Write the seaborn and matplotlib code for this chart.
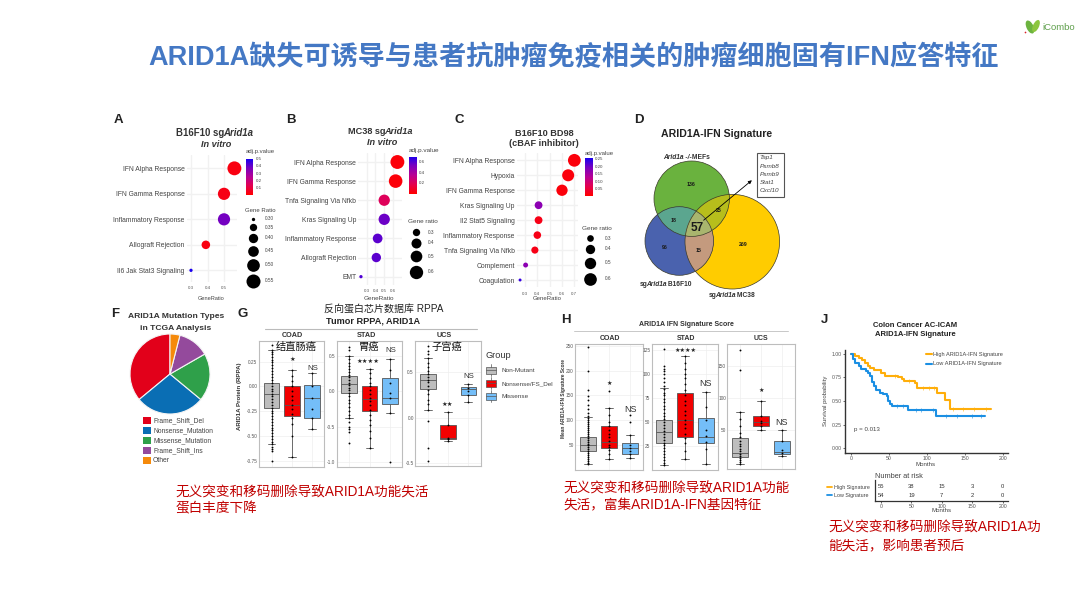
import numpy as np
import pandas as pd
import seaborn as sns
from matplotlib import pyplot as plt
from matplotlib.colors import LinearSegmentedColormap
from matplotlib.patches import Circle, Polygon, Rectangle, Ellipse

# ---- data ----
TITLE = 'ARID1A缺失可诱导与患者抗肿瘤免疫相关的肿瘤细胞固有IFN应答特征'

A_terms = ['IFN Alpha Response', 'IFN Gamma Response', 'Inflammatory Response', 'Allograft Rejection', 'Il6 Jak Stat3 Signaling']
A_ratio = [0.563, 0.50, 0.50, 0.39, 0.30]
A_padj = [0.03, 0.04, 0.42, 0.03, 0.55]

B_terms = ['IFN Alpha Response', 'IFN Gamma Response', 'Tnfa Signaling Via Nfkb', 'Kras Signaling Up',
           'Inflammatory Response', 'Allograft Rejection', 'EMT']
B_ratio = [0.65, 0.63, 0.50, 0.50, 0.425, 0.41, 0.235]
B_padj = [0.02, 0.02, 0.2, 0.55, 0.58, 0.58, 0.6]

C_terms = ['IFN Alpha Response', 'Hypoxia', 'IFN Gamma Response', 'Kras Signaling Up', 'Il2 Stat5 Signaling',
           'Inflammatory Response', 'Tnfa Signaling Via Nfkb', 'Complement', 'Coagulation']
C_ratio = [0.70, 0.65, 0.60, 0.41, 0.41, 0.40, 0.38, 0.305, 0.26]
C_padj = [0.01, 0.01, 0.01, 0.19, 0.02, 0.02, 0.02, 0.19, 0.26]

pie_labels = ['Frame_Shift_Del', 'Nonsense_Mutation', 'Missense_Mutation', 'Frame_Shift_Ins', 'Other']
pie_values = [36, 28, 19.3, 12.7, 4]
pie_colors = ['#E2001A', '#0A6EB4', '#2FA04A', '#944A9C', '#F58A0B']

venn_counts = ['136', '18', '25', '57', '96', '15', '269']
venn_genes = ['Tap1', 'Psmb8', 'Psmb9', 'Stat1', 'Cxcl10']

groups = ['Non-Mutant', 'Nonsense/FS_Del', 'Missense']
box_colors = ['#BDBDBD', '#F20000', '#74BEF8']

# five numbers per group: whisker low, q1, median, q3, whisker high
G_COAD_box = [[-0.58, -0.22, -0.08, 0.03, 0.37], [-0.71, -0.30, -0.185, 0.0, 0.16], [-0.43, -0.32, -0.12, 0.015, 0.13]]
G_STAD_box = [[-0.375, -0.03, 0.10, 0.215, 0.50], [-0.80, -0.285, -0.11, 0.07, 0.315], [-0.30, -0.18, -0.10, 0.19, 0.45]]
G_UCS_box = [[0.09, 0.315, 0.415, 0.485, 0.655], [-0.255, -0.235, -0.225, -0.08, 0.06], [0.18, 0.25, 0.315, 0.345, 0.375]]
H_COAD_box = [[10, 37, 50, 65, 106], [20, 42, 56, 87, 125], [22, 30, 43, 53, 69]]
H_STAD_box = [[6, 28, 40, 52, 86], [11.5, 35, 52, 80.5, 119], [7, 29, 35, 54, 82]]
H_UCS_box = [[-3, 7, 13, 37, 78], [50, 56, 62.5, 72, 95], [9, 12, 15, 32, 50]]

G_COAD_pts = [[0.42, 0.37, 0.35, 0.33, 0.3, 0.27, 0.24, 0.21, 0.18, 0.15, 0.12, 0.09, 0.06, 0.03, 0.0, -0.03, -0.05, -0.08, -0.1, -0.13,
               -0.16, -0.19, -0.22, -0.25, -0.27, -0.3, -0.33, -0.36, -0.39, -0.42, -0.44, -0.47, -0.5, -0.53, -0.56, -0.58, -0.61, -0.63, -0.65, -0.75],
              [0.16, 0.1, 0.05, 0.0, -0.05, -0.1, -0.14, -0.19, -0.23, -0.28, -0.32, -0.38, -0.5, -0.71],
              [0.13, 0.0, -0.12, -0.23, -0.32, -0.43]]
G_STAD_pts = [[0.62, 0.58, 0.5, 0.45, 0.4, 0.36, 0.31, 0.27, 0.23, 0.2, 0.16, 0.12, 0.09, 0.05, 0.02, -0.03, -0.07, -0.12, -0.17, -0.22, -0.28,
               -0.33, -0.375, -0.43, -0.5, -0.53, -0.57, -0.73],
              [0.315, 0.25, 0.18, 0.12, 0.07, 0.02, -0.04, -0.09, -0.14, -0.2, -0.26, -0.33, -0.4, -0.47, -0.56, -0.66, -0.8],
              [0.45, 0.3, 0.12, -0.03, -0.1, -0.3, -0.99]]
G_UCS_pts = [[0.79, 0.74, 0.7, 0.655, 0.6, 0.56, 0.52, 0.48, 0.45, 0.42, 0.39, 0.35, 0.31, 0.26, 0.2, 0.15, 0.09, -0.03, -0.33, -0.47],
             [0.06, -0.08, -0.22, -0.235, -0.255],
             [0.375, 0.33, 0.3, 0.25, 0.18]]
H_COAD_pts = [[248, 200, 162, 148, 140, 130, 122, 115, 108, 104, 100, 96, 92, 88, 84, 80, 76, 72, 68, 64, 60, 56, 52, 48, 44, 40, 36, 32, 28, 24, 20, 16, 12, 10],
              [160, 125, 110, 95, 88, 80, 72, 65, 58, 50, 44, 38, 30, 20],
              [110, 95, 69, 50, 42, 36, 30, 22]]
H_STAD_pts = [[126, 109, 106, 103, 100, 96, 92, 88, 85, 81, 78, 74, 71, 67, 64, 60, 57, 53, 50, 47, 44, 41, 38, 35, 32, 29, 26, 23, 20, 17, 14, 11, 8, 6],
              [119, 112, 106, 100, 96, 90, 84, 78, 72, 68, 62, 58, 52, 48, 44, 38, 34, 28, 20, 11.5],
              [82, 66, 52, 42, 36, 30, 22, 7]]
H_UCS_pts = [[175, 143, 78, 66, 55, 45, 38, 33, 28, 24, 20, 16, 12, 9, 6, 3, 0, -3],
             [95, 72, 64, 60, 55, 50],
             [50, 32, 18, 14, 9]]

km_high_t = [0, 5, 10, 15, 18, 22, 25, 30, 40, 45, 62, 67, 70, 84, 87, 114, 124, 130.5, 184]
km_high_s = [1.0, 0.98, 0.96, 0.93, 0.90, 0.87, 0.85, 0.83, 0.80, 0.77, 0.75, 0.73, 0.71, 0.69, 0.64, 0.58, 0.51, 0.42, 0.42]
km_low_t = [0, 3, 5, 10, 13, 20, 22, 25, 27, 30, 33, 38, 42, 47, 49, 52, 54, 75, 112, 177]
km_low_s = [1.0, 0.94, 0.90, 0.87, 0.84, 0.82, 0.80, 0.76, 0.70, 0.66, 0.62, 0.59, 0.57, 0.55, 0.50, 0.47, 0.445, 0.41, 0.34, 0.34]
high_cens_t = [58, 76, 95, 103, 110, 135, 148, 162, 178]
high_cens_s = [0.77, 0.71, 0.64, 0.64, 0.64, 0.42, 0.42, 0.42, 0.42]
low_cens_t = [60, 68, 85, 92, 108, 125, 140, 160, 172]
low_cens_s = [0.445, 0.445, 0.41, 0.41, 0.41, 0.34, 0.34, 0.34, 0.34]
risk_months = [0, 50, 100, 150, 200]
risk_high = [55, 38, 15, 3, 0]
risk_low = [54, 19, 7, 2, 0]

# ---- style ----
W, H = 1080, 608
sns.set_style('white')
# latin from Liberation Sans, everything else falls through to the CJK face
plt.rcParams['font.family'] = ['Liberation Sans', 'Noto Sans CJK SC', 'DejaVu Sans']

padj_cmap = LinearSegmentedColormap.from_list('padj', ['#FF0000', '#E4004F', '#B80094', '#7A00BE', '#1A00F0'])

fig = plt.figure(figsize=(W / 100, H / 100), dpi=100, facecolor='white')
renderer = fig.canvas.get_renderer()


def px_axes(x0, y0, x1, y1, **kw):
    return fig.add_axes([x0 / W, 1 - y1 / H, (x1 - x0) / W, (y1 - y0) / H], **kw)


# overlay in pixel coordinates for text and shapes
ov = px_axes(0, 0, W, H, zorder=10)
ov.set_xlim(0, W)
ov.set_ylim(H, 0)
ov.axis('off')


def txt(x, y, s, size=5, color='#333333', ha='center', **kw):
    return ov.text(x, y, s, fontsize=size, color=color, ha=ha, va='center', **kw)


def mixed(x, y, pieces, size, color='#333333'):
    # bold runs with bold italic gene names, left anchored on a shared baseline
    for s, italic in pieces:
        t = ov.text(x, y, s, fontsize=size, color=color, ha='left', va='baseline', weight='bold',
                    style='italic' if italic else 'normal')
        x += t.get_window_extent(renderer).width - 1.2


def dot_panel(ox, oy, rect, terms, ratio, padj, xticks, xpx, row_px, size_norm, sizes, pmax):
    ax = px_axes(ox + rect[0] / 3, oy + rect[1] / 3, ox + rect[2] / 3, oy + rect[3] / 3)
    df = pd.DataFrame({'term': terms, 'ratio': ratio, 'padj': padj})
    sns.scatterplot(data=df, x='ratio', y='term', hue='padj', size='ratio', palette=padj_cmap,
                    hue_norm=(0, pmax), size_norm=size_norm, sizes=sizes, legend=False,
                    edgecolor='none', clip_on=False, zorder=3, ax=ax)
    dx = (xticks[-1] - xticks[0]) / (xpx[1] - xpx[0])
    ax.set_xlim(xticks[0] + (rect[0] - xpx[0]) * dx, xticks[0] + (rect[2] - xpx[0]) * dx)
    dy = (len(terms) - 1) / (row_px[1] - row_px[0])
    ax.set_ylim((rect[3] - row_px[0]) * dy, (rect[1] - row_px[0]) * dy)
    ax.set_xticks(xticks)
    ax.set_xticklabels([f'{t:.1f}' for t in xticks])
    ax.tick_params(axis='x', labelsize=3.2, length=0, pad=3, labelcolor='#555555')
    ax.tick_params(axis='y', labelsize=4.9, length=0, pad=1.5, labelcolor='#444444')
    ax.set_xlabel('')
    ax.set_ylabel('')
    ax.grid(True, color='#F1F1F1', lw=1.0)
    ax.set_axisbelow(True)
    sns.despine(ax=ax, left=True, bottom=True)
    return ax


def colorbar(ox, oy, x0, y0, x1, y1, labels, label_y, label_x):
    ax = px_axes(ox + x0 / 3, oy + y0 / 3, ox + x1 / 3, oy + y1 / 3)
    ax.imshow(np.linspace(1, 0, 100).reshape(-1, 1), cmap=padj_cmap, aspect='auto')
    ax.axis('off')
    for lab, ly in zip(labels, label_y):
        txt(ox + label_x / 3, oy + ly / 3, lab, size=3.2, ha='left', color='#444444')


def size_legend(ox, oy, cx, cy_list, diam, labels, label_x, title, title_x, title_y, tsize=4.6):
    txt(ox + title_x / 3, oy + title_y / 3, title, size=tsize, ha='left', color='#444444')
    for cy, d, lab in zip(cy_list, diam, labels):
        ov.scatter([ox + cx / 3], [oy + cy / 3], s=(d / 3 * 0.72) ** 2, color='black', lw=0, clip_on=False)
        txt(ox + label_x / 3, oy + cy / 3, lab, size=3.4, ha='left', color='#444444')


# ---- headline ----
txt(573.5, 58, TITLE, size=19.5, color='#4478C4', weight='bold')

# logo
ov.add_patch(Ellipse((1030, 27), 7, 14, angle=-25, color='#6CB33F', lw=0))
ov.add_patch(Ellipse((1036, 26), 6, 13, angle=25, color='#8CC63F', lw=0))
ov.scatter([1025], [32], s=1.5, color='#D8232A', lw=0)
txt(1042, 28, 'iCombo', size=6.8, ha='left', color='#5E9F4B')

# ---- panel letters ----
for letter, lx, ly in [('A', 118, 120), ('B', 291, 120), ('C', 459, 120), ('D', 639, 120),
                       ('F', 115, 314), ('G', 243, 314), ('H', 566, 320), ('J', 824, 320)]:
    txt(lx, ly, letter, size=9.5, color='#222222', weight='bold')

# ---- panel A ----
dot_panel(100, 105, (260, 150, 410, 530), A_terms, A_ratio, A_padj, [0.3, 0.4, 0.5], (273, 372), (190, 496),
          (0.30, 0.563), (5.6, 100), 0.55)
mixed(176, 135.5, [('B16F10 sg', False), ('Arid1a', True)], 6.9)
txt(216, 144.5, 'In vitro', size=6.6, weight='bold', style='italic')
txt(211.5, 298, 'GeneRatio', size=4.1, color='#444444')
txt(100 + 438 / 3, 105 + 141 / 3, 'adj.p.value', size=4.3, ha='left', color='#444444')
colorbar(100, 105, 437, 162, 458, 270, ['0.5', '0.4', '0.3', '0.2', '0.1'], [163, 184, 206, 228, 250], 468)
size_legend(100, 105, 460, [342, 367, 398, 437, 480, 527], [10, 22, 28, 32, 38, 42],
            ['0.30', '0.35', '0.40', '0.45', '0.50', '0.55'], 494, 'Gene Ratio', 435, 315, 4.3)

# ---- panel B ----
dot_panel(280, 105, (235, 145, 365, 540), B_terms, B_ratio, B_padj, [0.3, 0.4, 0.5, 0.6], (260, 339), (171, 515),
          (0.235, 0.65), (5.6, 100), 0.7)
mixed(348.3, 133.5, [('MC38 sg', False), ('Arid1a', True)], 6.6)
txt(382, 142.5, 'In vitro', size=6.6, weight='bold', style='italic')
txt(379, 299, 'GeneRatio', size=4.6, color='#444444')
txt(280 + 387 / 3, 105 + 137 / 3, 'adj.p.value', size=4.6, ha='left', color='#444444')
colorbar(280, 105, 387, 155, 409, 267, ['0.6', '0.4', '0.2'], [171, 203, 235], 418)
size_legend(280, 105, 409, [381, 414, 454, 500], [22, 30, 35, 40], ['0.3', '0.4', '0.5', '0.6'], 443, 'Gene ratio', 385, 350)

# ---- panel C ----
dot_panel(445, 105, (215, 145, 400, 547), C_terms, C_ratio, C_padj, [0.3, 0.4, 0.5, 0.6, 0.7], (240, 388), (166, 525),
          (0.26, 0.70), (4.5, 84), 0.28)
txt(544, 133, 'B16F10 BD98', size=6.6, weight='bold')
txt(544, 144, '(cBAF inhibitor)', size=6.6, weight='bold')
txt(547, 299, 'GeneRatio', size=4.3, color='#444444')
txt(445 + 420 / 3, 105 + 145 / 3, 'adj.p.value', size=4.3, ha='left', color='#444444')
colorbar(445, 105, 420, 160, 442, 272, ['0.25', '0.20', '0.15', '0.10', '0.05'], [162, 185, 207, 230, 253], 450)
size_legend(445, 105, 436, [400, 432, 474, 522], [20, 28, 34, 38], ['0.3', '0.4', '0.5', '0.6'], 480, 'Gene ratio', 412, 370)

# ---- panel D venn ----
circles = {'g': ((691.7, 198.7), 37.7), 'b': ((679.3, 241.0), 34.3), 'y': ((732.3, 241.7), 47.3)}
base_col = {'g': '#6AB23E', 'b': '#4A62AE', 'y': '#FFCC00'}
lens_col = {('g', 'b'): '#5BA68F', ('g', 'y'): '#B7BE1C', ('b', 'y'): '#C49A7E', ('g', 'b', 'y'): '#A9B56E'}


def lens(keys):
    # outline of the overlap of convex circles
    pts = []
    for k in keys:
        (cx, cy), r = circles[k]
        ang = np.linspace(0, 2 * np.pi, 720)
        p = np.c_[cx + r * np.cos(ang), cy + r * np.sin(ang)]
        for other in keys:
            if other != k:
                (ox, oy), ro = circles[other]
                p = p[np.hypot(p[:, 0] - ox, p[:, 1] - oy) <= ro]
        pts.append(p)
    pts = np.vstack(pts)
    c = pts.mean(axis=0)
    return pts[np.argsort(np.arctan2(pts[:, 1] - c[1], pts[:, 0] - c[0]))]


for k in ['y', 'g', 'b']:
    ov.add_patch(Circle(*circles[k], color=base_col[k], lw=0))
for keys, col in lens_col.items():
    ov.add_patch(Polygon(lens(keys), closed=True, color=col, lw=0))
for k in circles:
    ov.add_patch(Circle(*circles[k], fill=False, ec='#3A3A2A', lw=0.5))
venn_pos = [(198, 238), (145, 347), (280, 315), (216, 368), (120, 428), (220, 435), (355, 417)]
for s, (cx, cy) in zip(venn_counts, venn_pos):
    big = s == '57'
    txt(625 + cx / 3, 105 + cy / 3, s, size=8.5 if big else 3.8, color='#1A1A1A', weight='bold')
txt(717, 134, 'ARID1A-IFN Signature', size=7.6, weight='bold', color='#222222')
mixed(662.7, 159, [('Arid1a -/-', True), (' MEFs', False)], 4.8)
mixed(640, 286, [('sg', False), ('Arid1a', True), (' B16F10', False)], 4.8)
mixed(709, 297, [('sg', False), ('Arid1a', True), (' MC38', False)], 4.8)
ov.add_patch(Rectangle((757, 152.5), 26.5, 44.5, fill=False, ec='#555555', lw=0.8))
for gene, cy in zip(venn_genes, [157, 183, 207, 232, 257]):
    txt(625 + 403 / 3, 105 + cy / 3, gene, size=4.6, ha='left', style='italic', color='#444444')
ov.annotate('', xy=(754, 178.5), xytext=(701.5, 222), arrowprops=dict(arrowstyle='-|>', color='black', lw=0.6, mutation_scale=5))

# ---- panel F pie ----
pie_ax = px_axes(130, 334, 210, 414)
pie_ax.pie(pie_values, colors=pie_colors, startangle=90, counterclock=True, radius=1,
           wedgeprops=dict(edgecolor='#F4F4F4', linewidth=0.8))
pie_ax.set_xlim(-1, 1)
pie_ax.set_ylim(-1, 1)
txt(176, 317, 'ARID1A Mutation Types', size=6.1, weight='bold')
txt(176, 328, 'in TCGA Analysis', size=6.1, weight='bold')
for lab, col, cy in zip(pie_labels, pie_colors, [361, 391, 421, 451, 481]):
    ov.add_patch(Rectangle((100 + 130 / 3, 300 + (cy - 11) / 3), 7.3, 7.3, color=col, lw=0))
    txt(100 + 159 / 3, 300 + cy / 3, lab, size=4.9, ha='left', color='#444444')


# ---- box panels G, H ----
def box_panel(ox, oy, rect, box, pts, ylim, yticks, ylabels, ts=3.4):
    ax = px_axes(ox + rect[0] / 3, oy + rect[1] / 3, ox + rect[2] / 3, oy + rect[3] / 3)
    bdf = pd.DataFrame([(g, v) for g, vals in zip(groups, box) for v in vals], columns=['group', 'value'])
    pdf = pd.DataFrame([(g, v) for g, vals in zip(groups, pts) for v in vals], columns=['group', 'value'])
    sns.boxplot(data=bdf, x='group', y='value', hue='group', palette=box_colors, order=groups, hue_order=groups,
                whis=(0, 100), showfliers=False, width=0.78, linewidth=0.6, linecolor='#555555', saturation=1,
                legend=False, dodge=False, ax=ax)
    sns.stripplot(data=pdf, x='group', y='value', order=groups, color='black', jitter=False, size=1.35, linewidth=0, zorder=5, ax=ax)
    ax.set_xlim(-0.62, 2.62)
    ax.set_ylim(*ylim)
    ax.set_yticks(yticks)
    ax.set_yticklabels(ylabels)
    ax.set_xlabel('')
    ax.set_ylabel('')
    ax.set_xticks([0, 1, 2])
    ax.set_xticklabels([])
    ax.tick_params(axis='both', length=0, labelsize=ts, pad=1, labelcolor='#555555')
    ax.grid(True, color='#EEEEEE', lw=0.5)
    ax.set_axisbelow(True)
    for s in ax.spines.values():
        s.set_color('#BDBDBD')
        s.set_linewidth(0.8)
    return ax


box_panel(235, 300, (72, 122, 268, 500), G_COAD_box, G_COAD_pts, (-0.81, 0.46), [0.25, 0, -0.25, -0.5, -0.75],
          ['0.25', '0.00', '-0.25', '-0.50', '-0.75'])
box_panel(235, 300, (305, 122, 502, 500), G_STAD_box, G_STAD_pts, (-1.06, 0.71), [0.5, 0, -0.5, -1],
          ['0.5', '0.0', '-0.5', '-1.0'])
box_panel(235, 300, (541, 122, 738, 498), G_UCS_box, G_UCS_pts, (-0.53, 0.85), [0.5, 0, -0.5], ['0.5', '0.0', '-0.5'])
box_panel(555, 310, (60, 102, 263, 480), H_COAD_box, H_COAD_pts, (-2, 255), [250, 200, 150, 100, 50],
          ['250', '200', '150', '100', '50'])
box_panel(555, 310, (290, 102, 490, 480), H_STAD_box, H_STAD_pts, (0.4, 131.5), [125, 100, 75, 50, 25],
          ['125', '100', '75', '50', '25'])
box_panel(555, 310, (517, 102, 720, 478), H_UCS_box, H_UCS_pts, (-12, 183.7), [150, 100, 50], ['150', '100', '50'])


def g_txt(cx, cy, s, size, ox=235, oy=300, **kw):
    txt(ox + cx / 3, oy + cy / 3, s, size=size, **kw)


g_txt(445, 30, '反向蛋白芯片数据库 RPPA', 7.2, color='#222222')
g_txt(415, 62, 'Tumor RPPA, ARID1A', 6.6, weight='bold', color='#222222')
ov.plot([265, 477], [329, 329], color='#BBBBBB', lw=0.8)
for s, cx in [('COAD', 172), ('STAD', 395), ('UCS', 628)]:
    g_txt(cx, 107, s, 5.2, weight='bold', color='#333333')
for s, cx in [('结直肠癌', 185), ('胃癌', 402), ('子宫癌', 635)]:
    g_txt(cx, 140, s, 7.4, color='#111111')
for s, cx, cy in [('★', 172, 178), ('★★★★', 400, 183), ('★★', 638, 312)]:
    g_txt(cx, cy, s, 4.6, color='#222222', family=['DejaVu Sans'])
for cx, cy in [(232, 205), (468, 153), (700, 231)]:
    g_txt(cx, cy, 'NS', 5.6, color='#333333')
g_txt(15, 290, 'ARID1A Protein (RPPA)', 4.4, weight='bold', rotation=90, color='#333333')
g_txt(750, 165, 'Group', 6.6, ha='left', color='#333333')
for lab, col, cy in zip(groups, box_colors, [210, 250, 288]):
    bx, by = 235 + 753 / 3, 300 + cy / 3
    ov.plot([bx + 5, bx + 5], [by - 6, by + 6], color='#555555', lw=0.5)
    ov.add_patch(Rectangle((bx, by - 3.5), 10, 7, fc=col, ec='#555555', lw=0.5, zorder=3))
    ov.plot([bx, bx + 10], [by, by], color='#555555', lw=0.5, zorder=4)
    g_txt(800, cy, lab, 4.6, ha='left', color='#444444')

g_txt(395, 43, 'ARID1A IFN Signature Score', 5.0, ox=555, oy=310, weight='bold', color='#333333')
ov.plot([574, 788], [330.7, 330.7], color='#C8C8C8', lw=0.7)
for s, cx in [('COAD', 165), ('STAD', 392), ('UCS', 618)]:
    g_txt(cx, 87, s, 5.0, ox=555, oy=310, weight='bold', color='#333333')
for s, cx, cy in [('★', 162, 220), ('★★★★', 392, 121), ('★', 618, 242)]:
    g_txt(cx, cy, s, 4.4, ox=555, oy=310, color='#222222', family=['DejaVu Sans'])
for cx, cy in [(226, 297), (453, 221), (680, 337)]:
    g_txt(cx, cy, 'NS', 6.4, ox=555, oy=310, color='#333333')
g_txt(25, 265, 'Mean ARID1A-IFN Signature Score', 3.4, ox=555, oy=310, weight='bold', rotation=90, color='#333333')

# ---- panel J survival ----
HIGH_COL, LOW_COL = '#FFAE0A', '#1B8FE3'
km_ax = px_axes(845, 350, 1007.7, 453)
sns.lineplot(x=km_high_t, y=km_high_s, drawstyle='steps-post', color=HIGH_COL, lw=1.5, estimator=None, ax=km_ax)
sns.lineplot(x=km_low_t, y=km_low_s, drawstyle='steps-post', color=LOW_COL, lw=1.5, estimator=None, ax=km_ax)
sns.scatterplot(x=high_cens_t, y=high_cens_s, marker='|', color=HIGH_COL, s=6, linewidth=0.4, ax=km_ax)
sns.scatterplot(x=low_cens_t, y=low_cens_s, marker='|', color=LOW_COL, s=6, linewidth=0.4, ax=km_ax)
km_ax.set_xlim(-8, 206.6)
km_ax.set_ylim(-0.05, 1.04)
km_ax.set_xticks(risk_months)
km_ax.set_yticks([0, 0.25, 0.5, 0.75, 1.0])
km_ax.set_yticklabels(['0.00', '0.25', '0.50', '0.75', '1.00'])
km_ax.tick_params(axis='both', labelsize=3.7, length=1.5, width=0.5, pad=1, labelcolor='#555555', color='#333333',
                  bottom=True, left=True)
km_ax.set_xlabel('')
km_ax.set_ylabel('')
sns.despine(ax=km_ax)
for s in ['left', 'bottom']:
    km_ax.spines[s].set_color('#333333')
    km_ax.spines[s].set_linewidth(1.0)
txt(826, 401, 'Survival probability', size=4.3, rotation=90, color='#444444')
txt(925.7, 464, 'Months', size=4.4, color='#444444')
txt(854, 430, 'p = 0.013', size=4.4, ha='left', color='#444444')
txt(915, 325.5, 'Colon Cancer AC-ICAM', size=5.5, weight='bold', color='#222222')
txt(915, 335, 'ARID1A-IFN Signature', size=5.5, weight='bold', color='#222222')
for lab, col, cy in [('High ARID1A-IFN Signature', HIGH_COL, 133), ('Low ARID1A-IFN Signature', LOW_COL, 161)]:
    ov.plot([815 + 332 / 3, 815 + 350 / 3], [310 + cy / 3] * 2, color=col, lw=1.5)
    txt(815 + 354 / 3, 310 + cy / 3, lab, size=4.1, ha='left', color='#444444')

risk_ax = px_axes(875, 480, 1008, 501)
risk_ax.set_xlim((875 - 881) / 30.4 * 50, (1008 - 881) / 30.4 * 50)
risk_ax.set_ylim(-0.6, 1.8)
for row, vals in [(1, risk_high), (0, risk_low)]:
    for m, v in zip(risk_months, vals):
        risk_ax.text(m, row, str(v), fontsize=4.2, ha='center', va='center', color='#333333')
risk_ax.set_xticks(risk_months)
risk_ax.set_yticks([])
risk_ax.tick_params(axis='x', labelsize=3.7, length=1.5, width=0.5, pad=1, labelcolor='#555555', bottom=True)
sns.despine(ax=risk_ax)
for s in ['left', 'bottom']:
    risk_ax.spines[s].set_color('#333333')
    risk_ax.spines[s].set_linewidth(0.9)
txt(875, 476, 'Number at risk', size=5.3, ha='left', color='#444444')
txt(941.7, 511, 'Months', size=4.4, color='#444444')
for lab, col, cy in [('High Signature', HIGH_COL, 532), ('Low Signature', LOW_COL, 556)]:
    ov.plot([815 + 35 / 3, 815 + 52 / 3], [310 + cy / 3] * 2, color=col, lw=1.3)
    txt(815 + 58 / 3, 310 + cy / 3, lab, size=3.9, ha='left', color='#444444')

# ---- red captions ----
RED = '#C00000'
for x, y, s in [(175, 493, '无义突变和移码删除导致ARID1A功能失活'), (175, 508, '蛋白丰度下降'),
                (563, 489, '无义突变和移码删除导致ARID1A功能'), (563, 505, '失活，富集ARID1A-IFN基因特征'),
                (828, 528, '无义突变和移码删除导致ARID1A功'), (828, 545, '能失活，影响患者预后')]:
    txt(x, y, s, size=9.8, color=RED, ha='left')

fig.savefig('out.png', dpi=100)
